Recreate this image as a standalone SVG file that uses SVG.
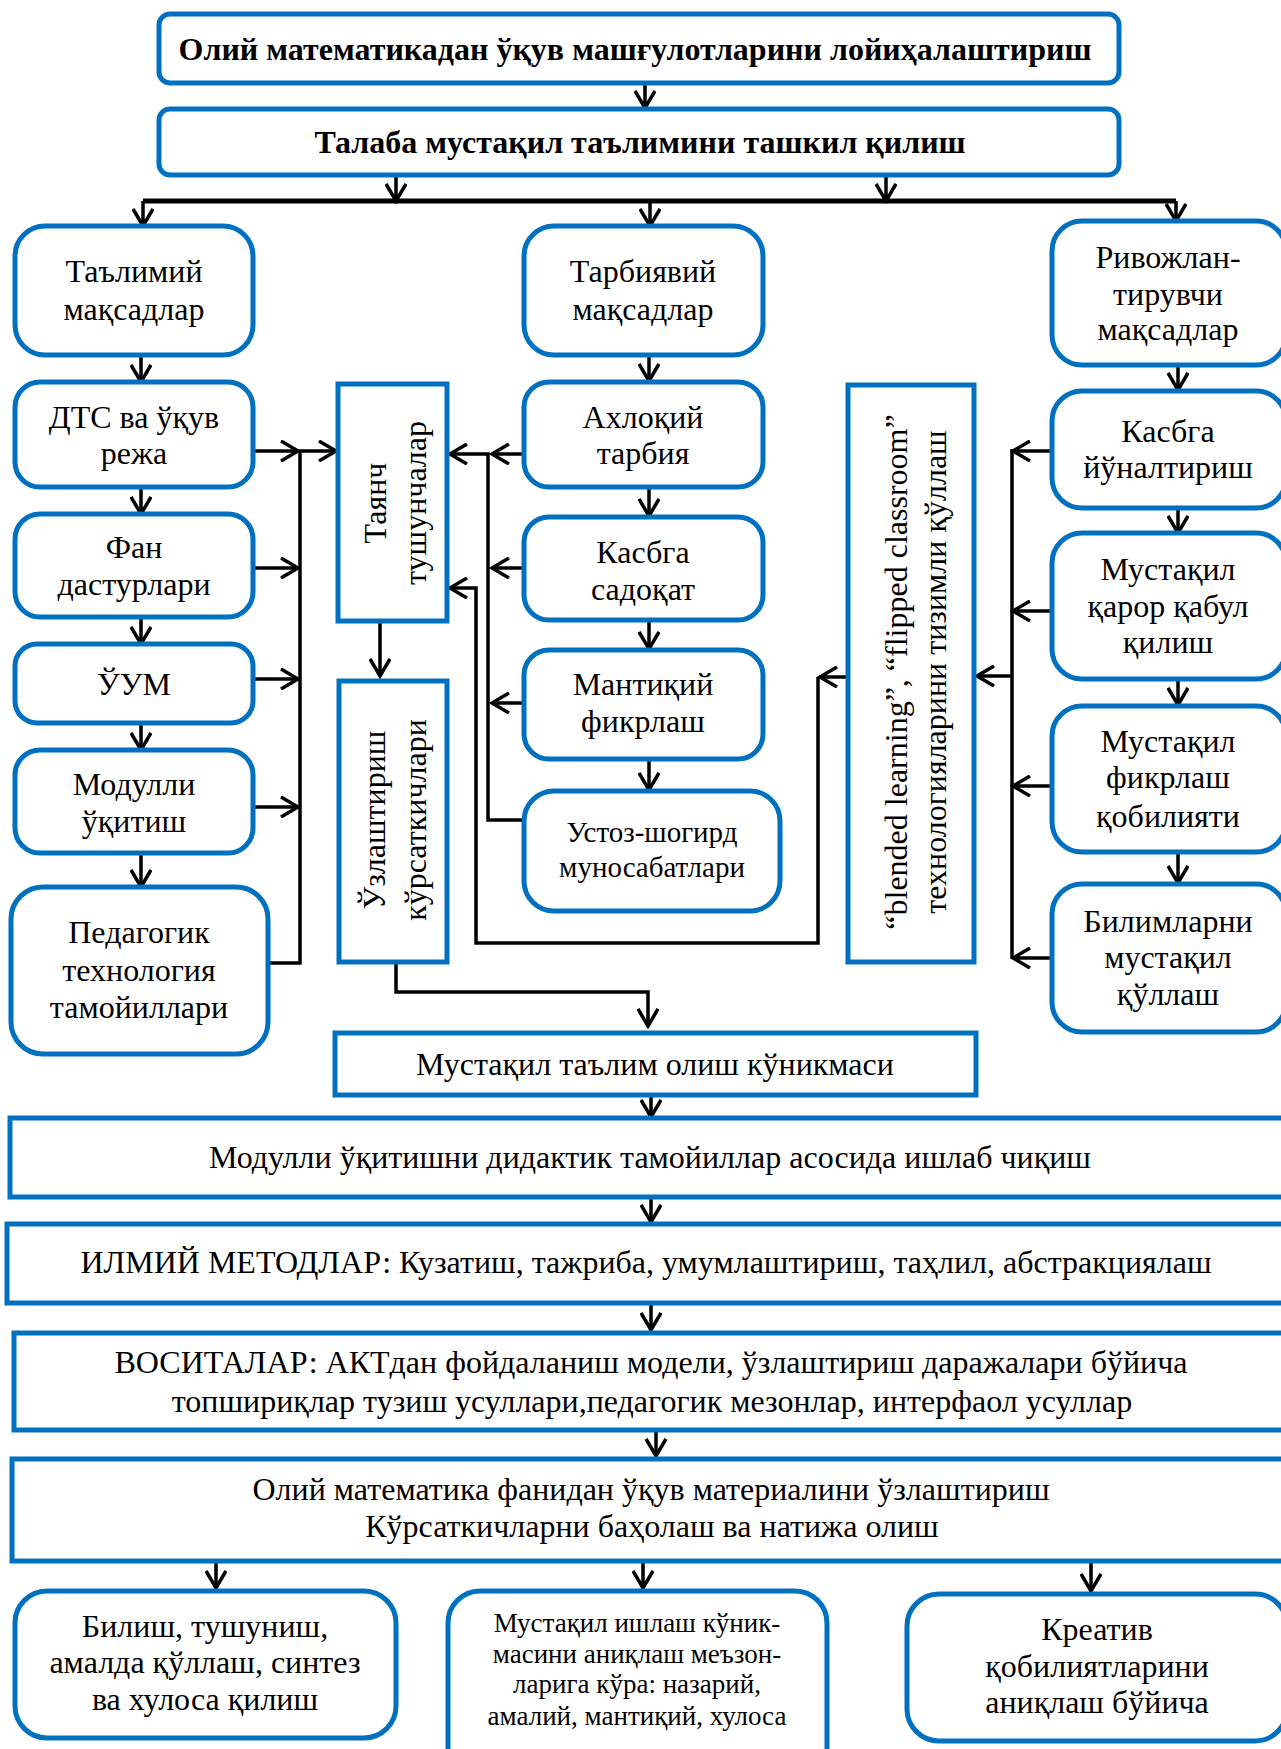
<svg xmlns="http://www.w3.org/2000/svg" width="1281" height="1749" viewBox="0 0 1281 1749">
<style>
.box{fill:#fff;stroke:#0070C0;stroke-width:5}
.t{font-family:"Liberation Serif","Times New Roman",serif;font-size:32px;fill:#000;text-anchor:middle}
.b{font-weight:bold}
.s{font-size:29px}
.xs{font-size:27px}
.c{fill:none;stroke:#000;stroke-width:3.5}
.a{marker-end:url(#ah)}
</style>
<defs>
<marker id="ah" viewBox="0 0 22 22" refX="19" refY="11" markerWidth="22" markerHeight="22" orient="auto" markerUnits="userSpaceOnUse">
<path d="M2,1 L19,11 L2,21" fill="none" stroke="#000" stroke-width="3.5"/>
</marker>
</defs>
<rect width="1281" height="1749" fill="#fff"/>

<g id="connectors">
<path class="c a" d="M645,84 V108"/>
<path class="c a" d="M396,175 V201"/>
<path class="c a" d="M886,175 V201"/>
<path d="M143,201 H1176" fill="none" stroke="#000" stroke-width="5"/>
<path class="c a" d="M143,201 V226"/>
<path class="c a" d="M650,201 V226"/>
<path class="c a" d="M1176,201 V221"/>
<path class="c a" d="M141,355 V382"/>
<path class="c a" d="M141,487 V514"/>
<path class="c a" d="M141,617 V644"/>
<path class="c a" d="M141,723 V750"/>
<path class="c a" d="M141,853 V887"/>
<path class="c a" d="M253,451 H298"/>
<path class="c a" d="M253,568 H298"/>
<path class="c a" d="M253,679 H298"/>
<path class="c a" d="M253,807 H298"/>
<path class="c a" d="M268,963 H300 V451 H336"/>
<path class="c a" d="M380,622 V676"/>
<path class="c a" d="M396,962 V992 H648 V1026"/>
<path class="c a" d="M649,355 V381"/>
<path class="c a" d="M649,487 V516"/>
<path class="c a" d="M649,620 V649"/>
<path class="c a" d="M649,759 V790"/>
<path class="c a" d="M524,454 H492"/>
<path class="c a" d="M524,568 H492"/>
<path class="c a" d="M524,703 H492"/>
<path class="c a" d="M524,820 H488 V454 H450"/>
<path class="c a" d="M848,677 H820"/>
<path class="c a" d="M818,677 V943 H476 V588 H450"/>
<path class="c a" d="M1178,365 V390"/>
<path class="c a" d="M1178,508 V533"/>
<path class="c a" d="M1178,679 V705"/>
<path class="c a" d="M1178,852 V883"/>
<path class="c" d="M1012,449 V958"/>
<path class="c a" d="M1052,451 H1013"/>
<path class="c a" d="M1052,611 H1013"/>
<path class="c a" d="M1052,786 H1013"/>
<path class="c a" d="M1052,958 H1013"/>
<path class="c a" d="M1012,676 H977"/>
<path class="c a" d="M651,1095 V1117"/>
<path class="c a" d="M651,1197 V1222"/>
<path class="c a" d="M651,1303 V1330"/>
<path class="c a" d="M656,1430 V1456"/>
<path class="c a" d="M216,1562 V1588"/>
<path class="c a" d="M643,1562 V1588"/>
<path class="c a" d="M1091,1562 V1591"/>
</g>

<g id="n-title">
<rect class="box" x="159" y="14" width="960" height="69" rx="11"/>
<text class="t b" x="635" y="60">Олий математикадан ўқув машғулотларини лойиҳалаштириш</text>
</g>
<g id="n-talaba">
<rect class="box" x="159" y="109" width="960" height="66" rx="11"/>
<text class="t b" x="640" y="153">Талаба мустақил таълимини ташкил қилиш</text>
</g>

<g id="n-talimiy">
<rect class="box" x="15" y="226" width="238" height="129" rx="30"/>
<text class="t" x="134" y="282">Таълимий</text>
<text class="t" x="134" y="320">мақсадлар</text>
</g>
<g id="n-dts">
<rect class="box" x="15" y="382" width="238" height="105" rx="25"/>
<text class="t" x="134" y="428">ДТС ва ўқув</text>
<text class="t" x="134" y="464">режа</text>
</g>
<g id="n-fan">
<rect class="box" x="15" y="514" width="238" height="103" rx="25"/>
<text class="t" x="134" y="558">Фан</text>
<text class="t" x="134" y="595">дастурлари</text>
</g>
<g id="n-uum">
<rect class="box" x="15" y="644" width="238" height="79" rx="22"/>
<text class="t" x="134" y="695">ЎУМ</text>
</g>
<g id="n-modulli">
<rect class="box" x="15" y="750" width="238" height="103" rx="25"/>
<text class="t" x="134" y="795">Модулли</text>
<text class="t" x="134" y="832">ўқитиш</text>
</g>
<g id="n-pedagogik">
<rect class="box" x="11" y="887" width="257" height="167" rx="32"/>
<text class="t" x="139" y="943">Педагогик</text>
<text class="t" x="139" y="981">технология</text>
<text class="t" x="139" y="1018">тамойиллари</text>
</g>

<g id="n-tayanch">
<rect class="box" x="338" y="384" width="109" height="237"/>
<text class="t" transform="translate(386,503) rotate(-90)">Таянч</text>
<text class="t" transform="translate(426,503) rotate(-90)">тушунчалар</text>
</g>
<g id="n-uzlashtirish">
<rect class="box" x="339" y="681" width="108" height="281"/>
<text class="t" transform="translate(385,820) rotate(-90)">Ўзлаштириш</text>
<text class="t" transform="translate(426,820) rotate(-90)">кўрсаткичлари</text>
</g>

<g id="n-tarbiyaviy">
<rect class="box" x="524" y="226" width="239" height="129" rx="30"/>
<text class="t" x="643" y="282">Тарбиявий</text>
<text class="t" x="643" y="320">мақсадлар</text>
</g>
<g id="n-axloqiy">
<rect class="box" x="524" y="382" width="239" height="105" rx="25"/>
<text class="t" x="643" y="428">Ахлоқий</text>
<text class="t" x="643" y="464">тарбия</text>
</g>
<g id="n-kasbga-sadoqat">
<rect class="box" x="524" y="517" width="239" height="103" rx="25"/>
<text class="t" x="643" y="563">Касбга</text>
<text class="t" x="643" y="600">садоқат</text>
</g>
<g id="n-mantiqiy">
<rect class="box" x="524" y="650" width="239" height="109" rx="25"/>
<text class="t" x="643" y="695">Мантиқий</text>
<text class="t" x="643" y="732">фикрлаш</text>
</g>
<g id="n-ustoz">
<rect class="box" x="524" y="791" width="256" height="120" rx="30"/>
<text class="t s" x="652" y="842">Устоз-шогирд</text>
<text class="t s" x="652" y="877">муносабатлари</text>
</g>

<g id="n-blended">
<rect class="box" x="848" y="385" width="126" height="577"/>
<text class="t" transform="translate(907,672) rotate(-90)">“blended learning”, “flipped classroom”</text>
<text class="t" transform="translate(946,672) rotate(-90)">технологияларини тизимли қўллаш</text>
</g>

<g id="n-rivojlantiruvchi">
<rect class="box" x="1052" y="221" width="234" height="144" rx="30"/>
<text class="t" x="1168" y="268">Ривожлан-</text>
<text class="t" x="1168" y="305">тирувчи</text>
<text class="t" x="1168" y="340">мақсадлар</text>
</g>
<g id="n-kasbga-yunaltirish">
<rect class="box" x="1052" y="391" width="234" height="117" rx="30"/>
<text class="t" x="1168" y="442">Касбга</text>
<text class="t" x="1168" y="478">йўналтириш</text>
</g>
<g id="n-qaror">
<rect class="box" x="1052" y="533" width="234" height="146" rx="30"/>
<text class="t" x="1168" y="580">Мустақил</text>
<text class="t" x="1168" y="617">қарор қабул</text>
<text class="t" x="1168" y="653">қилиш</text>
</g>
<g id="n-fikrlash">
<rect class="box" x="1052" y="706" width="234" height="146" rx="30"/>
<text class="t" x="1168" y="752">Мустақил</text>
<text class="t" x="1168" y="788">фикрлаш</text>
<text class="t" x="1168" y="827">қобилияти</text>
</g>
<g id="n-bilimlarni">
<rect class="box" x="1052" y="884" width="234" height="148" rx="30"/>
<text class="t" x="1168" y="932">Билимларни</text>
<text class="t" x="1168" y="968">мустақил</text>
<text class="t" x="1168" y="1005">қўллаш</text>
</g>

<g id="n-kunikma">
<rect class="box" x="335" y="1033" width="641" height="62"/>
<text class="t" x="655" y="1075">Мустақил таълим олиш кўникмаси</text>
</g>
<g id="n-didaktik">
<rect class="box" x="10" y="1118" width="1290" height="79"/>
<text class="t" x="650" y="1168">Модулли ўқитишни дидактик тамойиллар асосида ишлаб чиқиш</text>
</g>
<g id="n-ilmiy">
<rect class="box" x="7" y="1224" width="1293" height="79"/>
<text class="t" x="646" y="1273">ИЛМИЙ МЕТОДЛАР: Кузатиш, тажриба, умумлаштириш, таҳлил, абстракциялаш</text>
</g>
<g id="n-vositalar">
<rect class="box" x="14" y="1333" width="1286" height="97"/>
<text class="t" x="651" y="1373">ВОСИТАЛАР: АКТдан фойдаланиш модели, ўзлаштириш даражалари бўйича</text>
<text class="t" x="652" y="1412">топшириқлар тузиш усуллари,педагогик мезонлар, интерфаол усуллар</text>
</g>
<g id="n-natija">
<rect class="box" x="12" y="1459" width="1288" height="102"/>
<text class="t" x="651" y="1500">Олий математика фанидан ўқув материалини ўзлаштириш</text>
<text class="t" x="652" y="1537">Кўрсаткичларни баҳолаш ва натижа олиш</text>
</g>

<g id="n-bilish">
<rect class="box" x="15" y="1591" width="381" height="147" rx="32"/>
<text class="t" x="205" y="1637">Билиш, тушуниш,</text>
<text class="t" x="205" y="1673">амалда қўллаш, синтез</text>
<text class="t" x="205" y="1710">ва хулоса қилиш</text>
</g>
<g id="n-ishlash">
<rect class="box" x="448" y="1591" width="379" height="190" rx="32"/>
<text class="t xs" x="637" y="1632">Мустақил ишлаш кўник-</text>
<text class="t xs" x="637" y="1663">масини аниқлаш меъзон-</text>
<text class="t xs" x="637" y="1693">ларига кўра: назарий,</text>
<text class="t xs" x="637" y="1725">амалий, мантиқий, хулоса</text>
</g>
<g id="n-kreativ">
<rect class="box" x="907" y="1594" width="380" height="147" rx="32"/>
<text class="t" x="1097" y="1640">Креатив</text>
<text class="t" x="1097" y="1677">қобилиятларини</text>
<text class="t" x="1097" y="1713">аниқлаш бўйича</text>
</g>
</svg>
